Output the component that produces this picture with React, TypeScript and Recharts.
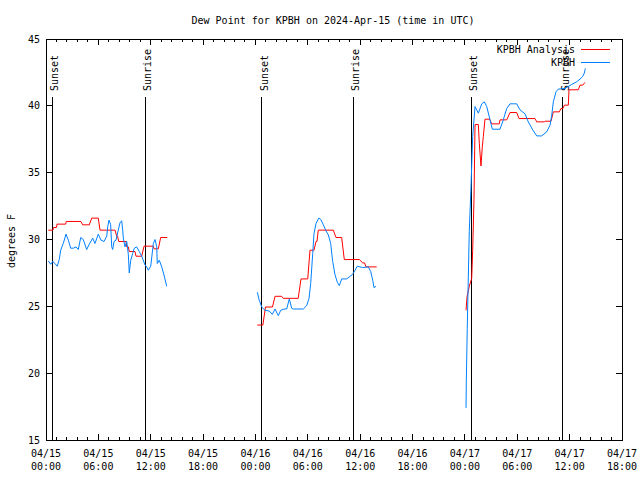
import React from 'react';
import { ComposedChart, Line, XAxis, YAxis, ReferenceLine, ReferenceArea } from 'recharts';

// time axis = hours since 04/15 00:00 UTC
const xLabelDates = ['04/15', '04/15', '04/15', '04/15', '04/16', '04/16', '04/16', '04/16', '04/17', '04/17', '04/17', '04/17'];
const xLabelTimes = ['00:00', '06:00', '12:00', '18:00', '00:00', '06:00', '12:00', '18:00', '00:00', '06:00', '12:00', '18:00'];
const yTicks = [15, 20, 25, 30, 35, 40, 45];

const sunsetHours = [0.72, 24.71, 48.74];
const sunriseHours = [11.38, 35.21, 59.21];

// KPBH Analysis (red)
const analysis1 = [
  [0.26, 30.7], [0.8, 30.7], [0.86, 30.9], [1.2, 30.9], [1.26, 31.15], [2.25, 31.15], [2.32, 31.35], [4.0, 31.35],
  [4.2, 31.1], [4.96, 31.1], [5.24, 31.6], [5.99, 31.6], [6.19, 30.7], [7.91, 30.7], [8.1, 30.25], [8.2, 30.25],
  [8.33, 29.85], [9.17, 29.85], [9.25, 29.45], [9.43, 29.45], [9.54, 29.1], [10.2, 29.1], [10.31, 28.75], [10.97, 28.75],
  [11.23, 29.5], [12.3, 29.5], [12.38, 29.3], [12.87, 29.3], [13.14, 30.15], [13.9, 30.15],
];
const analysis2 = [
  [24.21, 23.6], [24.85, 23.6], [25.15, 24.95], [25.95, 24.95], [26.24, 25.75], [27.0, 25.75], [27.19, 25.6], [28.9, 25.6],
  [29.22, 27.05], [29.99, 27.05], [30.25, 29.2], [30.71, 29.2], [30.94, 29.85], [31.05, 29.85], [31.2, 30.7], [32.92, 30.7],
  [33.23, 30.15], [33.88, 30.15], [34.18, 28.5], [35.9, 28.5], [36.29, 28.25], [36.5, 28.25], [36.67, 27.95], [37.89, 27.95],
];
const analysis3 = [
  [48.13, 24.7], [48.24, 25.7], [48.5, 26.5], [48.78, 27.1], [48.89, 29.2], [49.04, 33.0], [49.16, 38.6], [49.54, 38.6],
  [49.65, 37.2], [49.84, 35.5], [49.99, 36.9], [50.11, 37.7], [50.3, 39.0], [50.84, 39.0], [51.07, 38.65], [51.94, 38.65],
  [52.02, 38.95], [52.79, 38.95], [53.17, 39.5], [53.94, 39.5], [54.2, 39.05], [56.03, 39.05], [56.23, 38.8], [57.1, 38.8],
  [57.18, 38.85], [57.87, 38.85], [58.13, 39.55], [58.82, 39.55], [59.01, 39.8], [59.24, 39.8], [59.39, 40.05], [59.85, 40.05],
  [59.93, 41.2], [60.99, 41.2], [61.19, 41.55], [61.5, 41.55], [61.76, 41.75],
];

// KPBH observations (blue)
const obs1 = [
  [0.26, 28.4], [0.54, 28.15], [0.77, 28.35], [1.03, 28.2], [1.29, 28.0], [1.52, 28.5], [1.68, 29.2], [1.98, 29.7],
  [2.29, 30.4], [2.56, 29.95], [2.83, 29.35], [3.13, 29.35], [3.44, 29.45], [3.7, 29.25], [3.98, 30.15], [4.27, 30.0],
  [4.66, 29.25], [4.96, 29.65], [5.35, 30.1], [5.61, 29.7], [5.99, 30.4], [6.3, 29.95], [6.65, 29.85], [6.96, 30.25],
  [7.07, 30.95], [7.22, 31.45], [7.41, 31.1], [7.53, 29.45], [7.64, 29.25], [7.79, 29.85], [8.02, 29.95], [8.28, 30.7],
  [8.48, 31.25], [8.67, 31.4], [8.79, 30.7], [8.86, 30.1], [9.05, 29.45], [9.25, 29.85], [9.43, 28.9], [9.54, 27.5],
  [9.71, 28.45], [9.93, 28.95], [10.12, 29.35], [10.39, 29.45], [10.69, 29.1], [10.97, 28.75], [11.34, 28.1], [11.54, 27.95],
  [11.72, 27.7], [12.0, 28.0], [12.3, 29.7], [12.49, 30.0], [12.69, 29.45], [12.75, 28.2], [12.98, 28.45], [13.26, 27.95],
  [13.52, 27.35], [13.83, 26.5],
];
const obs2 = [
  [24.21, 26.05], [24.44, 25.45], [24.72, 24.95], [25.09, 24.7], [25.59, 24.65], [25.93, 24.4], [26.24, 24.8], [26.62, 24.3],
  [26.89, 24.7], [27.27, 24.8], [27.58, 24.8], [27.88, 25.55], [28.15, 24.85], [28.34, 24.8], [29.48, 24.8], [29.87, 25.05],
  [30.14, 25.6], [30.33, 26.7], [30.56, 28.95], [30.71, 30.45], [30.94, 31.2], [31.25, 31.6], [31.48, 31.5], [31.78, 31.1],
  [32.08, 30.65], [32.35, 30.35], [32.62, 29.7], [32.85, 28.35], [33.12, 27.35], [33.38, 26.8], [33.61, 26.55], [33.88, 27.05],
  [34.46, 27.05], [35.14, 27.4], [35.41, 27.7], [35.67, 28.0], [36.29, 27.9], [36.93, 27.95], [37.21, 27.6], [37.44, 26.95],
  [37.58, 26.4], [37.81, 26.5],
];
const obs3 = [
  [48.13, 17.4], [48.16, 19.35], [48.27, 23.35], [48.39, 27.2], [48.5, 30.6], [48.7, 34.0], [48.89, 37.7], [49.16, 39.95],
  [49.54, 39.45], [49.93, 40.15], [50.22, 40.3], [50.5, 39.95], [50.88, 38.95], [51.14, 38.25], [52.02, 38.25], [52.4, 38.95],
  [52.79, 39.8], [53.17, 40.15], [53.94, 40.15], [54.31, 39.7], [54.89, 39.4], [55.26, 38.8], [55.77, 38.2], [56.23, 37.75],
  [56.8, 37.75], [57.37, 38.05], [57.75, 38.55], [57.95, 39.3], [58.13, 40.3], [58.44, 41.05], [58.7, 41.25], [59.47, 41.3],
  [59.85, 41.45], [60.24, 41.6], [60.81, 41.8], [61.19, 42.0], [61.5, 42.2], [61.68, 42.45], [61.8, 42.8],
];

const PLOT_LEFT = 46;
const PLOT_RIGHT = 622;
const PLOT_TOP = 39;
const PLOT_BOTTOM = 440;
const FONT = '"DejaVu Sans Mono", "Liberation Mono", monospace';
const RED = '#ff0000';
const BLUE = '#0080ff';

// join segments with a null point so the line breaks over the gaps
const joinSegments = (segs: number[][][]) =>
  segs.flatMap((seg, i) => [
    ...(i > 0 ? [{ t: seg[0][0] - 0.5, v: null }] : []),
    ...seg.map(([t, v]) => ({ t, v })),
  ]);

const analysisData = joinSegments([analysis1, analysis2, analysis3]);
const obsData = joinSegments([obs1, obs2, obs3]);

// major tics every 6 h, 4 minor tics in between
const xTicks: number[] = [];
for (let i = 0; i <= 55; i++) xTicks.push(Math.round(i * 1.2 * 100) / 100);

const XTick = ({ x, y, payload }: any) => {
  const v = payload.value;
  const major = Math.abs(v / 6 - Math.round(v / 6)) < 1e-6;
  const len = major ? 6 : 3;
  const idx = Math.round(v / 6);
  return (
    <g>
      <line x1={x} x2={x} y1={PLOT_BOTTOM} y2={PLOT_BOTTOM - len} stroke="#000" shapeRendering="crispEdges" />
      <line x1={x} x2={x} y1={PLOT_TOP} y2={PLOT_TOP + len} stroke="#000" shapeRendering="crispEdges" />
      {major && (
        <text x={x} y={y} textAnchor="middle" fontFamily={FONT} fontSize={10} fill="#000">
          <tspan x={x} dy={16.5}>{xLabelDates[idx]}</tspan>
          <tspan x={x} dy={13}>{xLabelTimes[idx]}</tspan>
        </text>
      )}
    </g>
  );
};

const YTick = ({ y, payload }: any) => (
  <g>
    <line x1={PLOT_LEFT} x2={PLOT_LEFT + 6} y1={y} y2={y} stroke="#000" shapeRendering="crispEdges" />
    <line x1={PLOT_RIGHT} x2={PLOT_RIGHT - 6} y1={y} y2={y} stroke="#000" shapeRendering="crispEdges" />
    <text x={PLOT_LEFT - 6} y={y} dy={3.6} textAnchor="end" fontFamily={FONT} fontSize={10} fill="#000">
      {payload.value}
    </text>
  </g>
);

const SunLabel = ({ viewBox, text }: any) => {
  const x = viewBox ? viewBox.x : 0;
  return (
    <text
      transform={`translate(${x + 6}, 91) rotate(-90)`}
      textAnchor="start"
      fontFamily={FONT}
      fontSize={10}
      fill="#000"
    >
      {text}
    </text>
  );
};

// sun lines stop at about 85% of the plot height
const SUN_TOP = 40.65;

export default function App() {
  return (
    <div style={{ position: 'absolute', left: 0, top: 0, width: 640, height: 480, background: '#fff' }}>
      <ComposedChart width={640} height={480} margin={{ top: PLOT_TOP, right: 640 - PLOT_RIGHT, bottom: 0, left: 0 }}>
        <XAxis
          type="number"
          dataKey="t"
          domain={[0, 66]}
          ticks={xTicks}
          interval={0}
          tick={<XTick />}
          tickLine={false}
          axisLine={false}
          tickSize={0}
          tickMargin={0}
          height={480 - PLOT_BOTTOM}
          allowDataOverflow
        />
        <YAxis
          type="number"
          domain={[15, 45]}
          ticks={yTicks}
          interval={0}
          tick={<YTick />}
          tickLine={false}
          axisLine={false}
          width={PLOT_LEFT}
          allowDataOverflow
        />
        <ReferenceArea
          x1={0}
          x2={66}
          y1={15}
          y2={45}
          fill="none"
          fillOpacity={0}
          stroke="#000"
          strokeWidth={1}
          shapeRendering="crispEdges"
        />
        {sunsetHours.map((h) => (
          <ReferenceLine
            key={`ss-${h}`}
            segment={[{ x: h, y: 15 }, { x: h, y: SUN_TOP }]}
            stroke="#000"
            strokeWidth={1}
            shapeRendering="crispEdges"
            label={<SunLabel text="Sunset" />}
          />
        ))}
        {sunriseHours.map((h) => (
          <ReferenceLine
            key={`sr-${h}`}
            segment={[{ x: h, y: 15 }, { x: h, y: SUN_TOP }]}
            stroke="#000"
            strokeWidth={1}
            shapeRendering="crispEdges"
            label={<SunLabel text="Sunrise" />}
          />
        ))}
        <Line
          data={analysisData}
          dataKey="v"
          name="KPBH Analysis"
          type="linear"
          stroke={RED}
          strokeWidth={1}
          dot={false}
          activeDot={false}
          connectNulls={false}
          isAnimationActive={false}
        />
        <Line
          data={obsData}
          dataKey="v"
          name="KPBH"
          type="linear"
          stroke={BLUE}
          strokeWidth={1}
          dot={false}
          activeDot={false}
          connectNulls={false}
          isAnimationActive={false}
        />
      </ComposedChart>
      <svg
        width={640}
        height={480}
        style={{ position: 'absolute', left: 0, top: 0, pointerEvents: 'none' }}
      >
        <text x={333} y={23.6} textAnchor="middle" fontFamily={FONT} fontSize={10} fill="#000">
          Dew Point for KPBH on 2024-Apr-15 (time in UTC)
        </text>
        <text
          transform="translate(14.6, 241) rotate(-90)"
          textAnchor="middle"
          fontFamily={FONT}
          fontSize={10}
          fill="#000"
        >
          degrees F
        </text>
        <text x={575} y={52.6} textAnchor="end" fontFamily={FONT} fontSize={10} fill="#000">
          KPBH Analysis
        </text>
        <line x1={581} x2={610} y1={49.5} y2={49.5} stroke={RED} strokeWidth={1} />
        <text x={575} y={65.6} textAnchor="end" fontFamily={FONT} fontSize={10} fill="#000">
          KPBH
        </text>
        <line x1={581} x2={610} y1={62.5} y2={62.5} stroke={BLUE} strokeWidth={1} />
      </svg>
    </div>
  );
}
